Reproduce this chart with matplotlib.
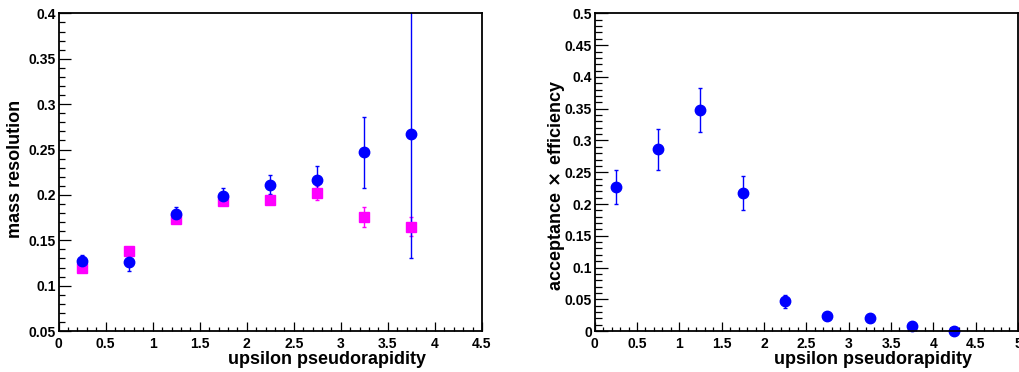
import matplotlib
matplotlib.use("Agg")
import matplotlib.pyplot as plt
from matplotlib.ticker import MultipleLocator, FuncFormatter

plt.rcParams["font.family"] = ["Liberation Sans", "DejaVu Sans"]
plt.rcParams["font.weight"] = "bold"
plt.rcParams["mathtext.fontset"] = "dejavusans"

# left panel: mass resolution vs upsilon pseudorapidity
eta_left = [0.25, 0.75, 1.25, 1.75, 2.25, 2.75, 3.25, 3.75]
res_blue = [0.127, 0.126, 0.179, 0.199, 0.211, 0.216, 0.247, 0.267]
res_blue_err = [0.007, 0.0095, 0.008, 0.0086, 0.0105, 0.016, 0.039, 0.137]
res_magenta = [0.119, 0.138, 0.173, 0.193, 0.194, 0.202, 0.176, 0.165]
res_magenta_err = [0.002, 0.002, 0.003, 0.004, 0.002, 0.008, 0.011, 0.0106]

# right panel: acceptance x efficiency vs upsilon pseudorapidity
eta_right = [0.25, 0.75, 1.25, 1.75, 2.25, 2.75, 3.25, 3.75, 4.25]
acc_eff = [0.227, 0.286, 0.348, 0.217, 0.047, 0.024, 0.0205, 0.0084, 0.0]
acc_eff_err = [0.0265, 0.0328, 0.0346, 0.0265, 0.0105, 0.005, 0.003, 0.002, 0.0005]

BLUE = "#0000ff"
MAGENTA = "#ff00ff"


def _style_axis(ax, xmax, ymin, ymax, ytick_len):
    ax.set_xlim(0, xmax)
    ax.set_ylim(ymin, ymax)
    ax.xaxis.set_major_locator(MultipleLocator(0.5))
    ax.xaxis.set_minor_locator(MultipleLocator(0.1))
    ax.yaxis.set_major_locator(MultipleLocator(0.05))
    ax.yaxis.set_minor_locator(MultipleLocator(0.01))
    fmt = FuncFormatter(lambda v, _: "%g" % round(v, 3))
    ax.xaxis.set_major_formatter(fmt)
    ax.yaxis.set_major_formatter(fmt)
    ax.tick_params(which="both", direction="in", top=False, right=False,
                   labelsize=10, width=0.9)
    ax.tick_params(axis="x", which="major", length=6.5, pad=4)
    ax.tick_params(axis="x", which="minor", length=3)
    ax.tick_params(axis="y", which="major", length=ytick_len, pad=2)
    ax.tick_params(axis="y", which="minor", length=ytick_len / 2)
    for lab in ax.get_xticklabels() + ax.get_yticklabels():
        lab.set_fontweight("bold")
    for sp in ax.spines.values():
        sp.set_linewidth(1.3)


fig = plt.figure(figsize=(10.2, 3.72), dpi=100)
ax1 = fig.add_axes([0.0575, 0.110, 0.415, 0.854])
ax2 = fig.add_axes([0.583, 0.110, 0.415, 0.854])

ax1.errorbar(eta_left, res_magenta, yerr=res_magenta_err, fmt="s", color=MAGENTA,
             ms=7, elinewidth=1, capsize=1.5, capthick=1)
ax1.errorbar(eta_left, res_blue, yerr=res_blue_err, fmt="o", color=BLUE,
             ms=7.5, elinewidth=1, capsize=1.5, capthick=1)
_style_axis(ax1, 4.5, 0.05, 0.4, 8.6)
ax1.set_xlabel("upsilon pseudorapidity", fontsize=13, fontweight="bold")
ax1.set_ylabel("mass resolution", fontsize=13, fontweight="bold")
ax1.xaxis.set_label_coords(0.868, -0.091)
ax1.xaxis.label.set_ha("right")
ax1.xaxis.label.set_va("center")
ax1.yaxis.set_label_coords(-0.101, 0.51)
ax1.yaxis.label.set_va("center")

ax2.errorbar(eta_right, acc_eff, yerr=acc_eff_err, fmt="o", color=BLUE,
             ms=7.5, elinewidth=1, capsize=1.5, capthick=1, clip_on=False)
_style_axis(ax2, 5, 0.0, 0.5, 9.4)
ax2.set_xlabel("upsilon pseudorapidity", fontsize=13, fontweight="bold")
ax2.set_ylabel(r"acceptance$\,\times\,$efficiency", fontsize=13, fontweight="bold")
ax2.xaxis.set_label_coords(0.891, -0.091)
ax2.xaxis.label.set_ha("right")
ax2.xaxis.label.set_va("center")
ax2.yaxis.set_label_coords(-0.09, 0.458)
ax2.yaxis.label.set_va("center")

fig.savefig("out.png", dpi=100)
